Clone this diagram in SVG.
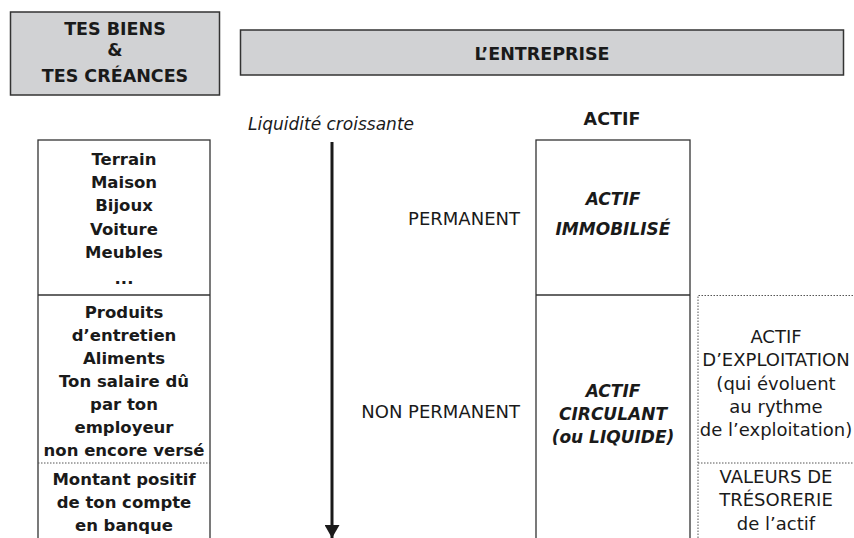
<svg xmlns="http://www.w3.org/2000/svg" width="854" height="538" viewBox="0 0 854 538">
<defs>
<style>
text{font-family:"DejaVu Sans","Liberation Sans",sans-serif;fill:#1a1a1a;text-anchor:middle}
.h{font-weight:bold;font-size:17.5px}
.b{font-weight:bold;font-size:16.5px}
.n{font-size:18px}
.bi{font-weight:bold;font-style:italic;font-size:17px}
.i{font-style:italic;font-size:17px}
.hdr{fill:#d1d2d4;stroke:#333;stroke-width:1.5}
.box{fill:#fff;stroke:#333;stroke-width:1.3}
.dot{fill:none;stroke:#555;stroke-width:1;stroke-dasharray:1.5 1.5}
</style>
<marker id="ah" viewBox="0 0 13 15" refX="13" refY="7.5" markerWidth="13" markerHeight="15" markerUnits="userSpaceOnUse" orient="auto">
<path d="M0,0 L13,7.5 L0,15 Z" fill="#1a1a1a"/>
</marker>
</defs>
<rect width="854" height="538" fill="#fff"/>
<g id="biens">
<rect class="hdr" x="10.5" y="12" width="209" height="83"/>
<text class="h" x="115" y="35">TES BIENS</text>
<text class="h" x="115" y="56">&amp;</text>
<text class="h" x="115" y="82">TES CRÉANCES</text>
</g>
<g id="entreprise">
<rect class="hdr" x="240.5" y="30" width="603" height="45"/>
<text class="h" x="542" y="60">L’ENTREPRISE</text>
</g>
<g id="liste">
<rect class="box" x="38" y="140" width="172" height="410"/>
<line x1="38" y1="295" x2="210" y2="295" stroke="#333" stroke-width="1.3"/>
<line class="dot" x1="38" y1="463" x2="210" y2="463"/>
<text class="b" x="124" y="165">Terrain</text>
<text class="b" x="124" y="188">Maison</text>
<text class="b" x="124" y="211">Bijoux</text>
<text class="b" x="124" y="235">Voiture</text>
<text class="b" x="124" y="258">Meubles</text>
<text class="b" x="124" y="284">...</text>
<text class="b" x="124" y="318">Produits</text>
<text class="b" x="124" y="341">d’entretien</text>
<text class="b" x="124" y="364">Aliments</text>
<text class="b" x="124" y="387">Ton salaire dû</text>
<text class="b" x="124" y="410">par ton</text>
<text class="b" x="124" y="433">employeur</text>
<text class="b" x="124" y="456">non encore versé</text>
<text class="b" x="124" y="485">Montant positif</text>
<text class="b" x="124" y="508">de ton compte</text>
<text class="b" x="124" y="531">en banque</text>
</g>
<g id="connectors">
<line x1="332" y1="142" x2="332" y2="538" stroke="#1a1a1a" stroke-width="3" marker-end="url(#ah)"/>
</g>
<g id="axe">
<text class="i" x="331" y="130">Liquidité croissante</text>
<text class="n" x="520" y="225" style="text-anchor:end">PERMANENT</text>
<text class="n" x="520" y="418" style="text-anchor:end">NON PERMANENT</text>
</g>
<g id="actif">
<text class="h" x="612" y="125">ACTIF</text>
<rect class="box" x="536" y="140" width="154" height="410"/>
<line x1="536" y1="295" x2="690" y2="295" stroke="#333" stroke-width="1.3"/>
<text class="bi" x="613" y="205">ACTIF</text>
<text class="bi" x="613" y="235">IMMOBILISÉ</text>
<text class="bi" x="613" y="397">ACTIF</text>
<text class="bi" x="613" y="420">CIRCULANT</text>
<text class="bi" x="613" y="443">(ou LIQUIDE)</text>
</g>
<g id="details">
<path class="dot" d="M698,538 V295.5 H860"/>
<line class="dot" x1="698" y1="463" x2="860" y2="463"/>
<text class="n" x="776" y="343">ACTIF</text>
<text class="n" x="776" y="366">D’EXPLOITATION</text>
<text class="n" x="776" y="390">(qui évoluent</text>
<text class="n" x="776" y="413">au rythme</text>
<text class="n" x="776" y="436">de l’exploitation)</text>
<text class="n" x="776" y="483">VALEURS DE</text>
<text class="n" x="776" y="506">TRÉSORERIE</text>
<text class="n" x="776" y="530">de l’actif</text>
</g>
</svg>
